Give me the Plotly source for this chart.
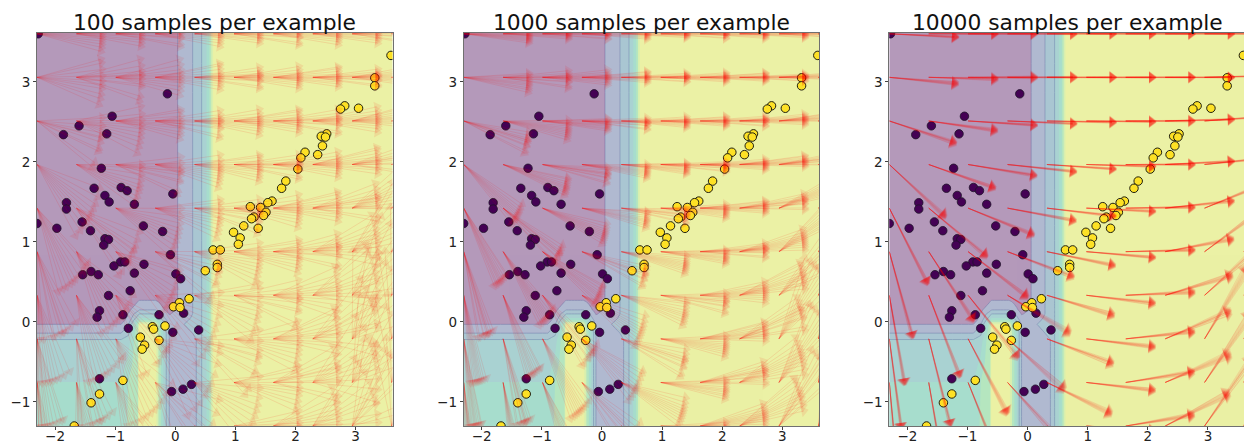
import math
import plotly.graph_objects as go

titles = ["100 samples per example", "1000 samples per example", "10000 samples per example"]
x_ticks = [-2, -1, 0, 1, 2, 3]
y_ticks = [-1, 0, 1, 2, 3]

dark_x = [-2.28,-0.13,-1.05,-1.60,-1.86,-1.14,-1.23,-0.04,-1.35,-0.90,-0.80,-1.17,-1.10,-1.81,-1.81,-0.68,-1.55,-0.53,-2.30,-1.97,-1.41,-0.21,-1.17,-1.11,-1.19,-0.08,-0.91,-0.84,-1.02,-0.52,-1.40,-1.28,-1.54,-0.68,0.01,0.09,-0.75,-1.11,-1.26,-1.30,-0.87,-0.27,0.14,-0.78,-0.04,0.39,-1.26,-0.06,0.13,0.27]
dark_y = [3.60,2.85,2.57,2.45,2.34,2.35,1.92,1.60,1.67,1.68,1.64,1.58,1.50,1.49,1.41,1.47,1.25,1.20,1.23,1.17,1.14,1.13,1.04,1.03,0.96,0.84,0.75,0.75,0.70,0.72,0.63,0.59,0.59,0.61,0.60,0.54,0.39,0.33,0.14,0.06,0.09,0.09,0.11,-0.08,-0.13,-0.10,-0.71,-0.87,-0.84,-0.78]
light_x = [3.59,3.32,3.32,2.82,2.75,3.05,2.52,2.43,2.50,2.45,2.37,2.16,2.09,2.04,1.84,1.77,1.61,1.54,1.25,1.42,1.51,1.47,1.31,1.27,1.14,0.97,1.38,1.08,1.05,0.63,0.75,0.70,0.70,0.50,0.23,0.07,-0.03,0.08,-0.38,-0.36,-0.17,-0.58,-0.51,-0.55,-0.27,-0.87,-1.26,-1.40,-1.68]
light_y = [3.33,3.05,2.95,2.70,2.66,2.67,2.35,2.32,2.31,2.20,2.09,2.12,2.05,1.91,1.76,1.67,1.51,1.49,1.44,1.43,1.37,1.33,1.31,1.29,1.20,1.12,1.17,1.05,0.97,0.90,0.90,0.72,0.68,0.64,0.29,0.24,0.19,0.18,-0.06,-0.09,-0.05,-0.19,-0.29,-0.34,-0.23,-0.73,-0.90,-1.01,-1.30]

# decision surface: nodes in x per panel, shared nodes in y, level values
surface_x_100 = [-2.3,-0.9,-0.78,-0.62,-0.6,-0.33,-0.28,-0.24,-0.2,-0.15,-0.1,0.04,0.29,0.35,0.44,0.52,0.57,0.6,0.63,0.65,3.62]
surface_x_1000 = [-2.3,-0.9,-0.78,-0.62,-0.6,-0.31,-0.26,-0.22,-0.18,-0.14,-0.1,0.05,0.30,0.36,0.45,0.52,0.57,0.6,0.63,0.65,3.62]
surface_x_10000 = [-2.3,-0.9,-0.78,-0.62,-0.6,-0.31,-0.26,-0.22,-0.18,-0.14,-0.1,0.06,0.29,0.38,0.45,0.52,0.57,0.6,0.63,0.65,3.62]
surface_y = [-1.31,-0.75,-0.5,-0.22,-0.14,-0.03,0.02,0.05,0.1,0.15,0.27,0.4,3.62]
surface_z = [
    [4,4,4.6,5.5,7,7,5.5,4.5,3.5,2.5,1.5,1,1,1.5,2.5,3.5,4.5,5.5,6.5,7,7],
    [3.5,3.5,4.5,5.5,7,7,5.5,4.5,3.5,2.5,1.5,1,1,1.5,2.5,3.5,4.5,5.5,6.5,7,7],
    [3,3,3.7,5.5,7,7,5.5,4.5,3.5,2.5,1.5,1,1,1.5,2.5,3.5,4.5,5.5,6.5,7,7],
    [2.5,2.5,3,5.5,7,7,5.5,4.5,3.5,2.5,1.5,1.2,1.3,1.5,2.5,3.5,4.5,5.5,6.5,7,7],
    [1.5,1.5,2.2,5.5,7,7,5.5,4.5,3.5,2.5,1.5,1.2,1.5,1.8,2.5,3.5,4.5,5.5,6.5,7,7],
    [0.5,0.5,1.4,5,6.6,6.6,5,4,3,2,1.2,1.2,1.9,2.3,2.5,3.5,4.5,5.5,6.5,7,7],
    [0,0.1,0.9,3.8,4.5,4.5,3.7,3,2.3,1.6,1,1,1.7,2.1,2.5,3.5,4.5,5.5,6.5,7,7],
    [0,0,0.7,3,3.5,3.5,2.8,2.3,1.8,1.2,0.7,0.9,1.6,2,2.5,3.5,4.5,5.5,6.5,7,7],
    [0,0,0.55,2.2,2.5,2.5,2,1.6,1.2,0.8,0.45,0.7,1.5,1.8,2.5,3.5,4.5,5.5,6.5,7,7],
    [0,0,0.3,1.2,1.5,1.5,1.1,0.8,0.6,0.4,0.2,0.6,1.5,1.8,2.5,3.5,4.5,5.5,6.5,7,7],
    [0,0,0,0.4,0.5,0.5,0.4,0.3,0.2,0.1,0.05,0.5,1.5,1.8,2.5,3.5,4.5,5.5,6.5,7,7],
    [0,0,0,0,0,0,0,0,0,0,0,0.5,1.5,1.8,2.5,3.5,4.5,5.5,6.5,7,7],
    [0,0,0,0,0,0,0,0,0,0,0,0.5,1.5,1.8,2.5,3.5,4.5,5.5,6.5,7,7],
]
level_colors = ["#440154","#3b528b","#2c718e","#2a8e8e","#23aa82","#46c060","#a0d838","#cddc1e"]

# gradient field: tail nodes, direction in degrees and fan half-width, rows top to bottom
node_x = [-2.3,-1.644,-0.989,-0.333,0.322,0.978,1.633,2.289,2.944,3.6]
node_y = [3.6,3.056,2.511,1.967,1.422,0.878,0.333,-0.211,-0.756,-1.3]
arrow_len = 1.15
angle_deg = [
    [-2,0,0,0,0,0,0,0,0,0],
    [-4,-1,0,0,0,0,0,0,1,1],
    [-14,-6,-2.7,-1.7,-0.8,-0.5,0,1,3,5],
    [-35,-15,-7,-4.5,-2.9,-1.2,0,2,4.5,10],
    [-56,-32,-17,-8,-5,-2,0.5,4.5,17,30],
    [-70,-49,-30,-16,-8.7,-3.7,1,8,29,45],
    [-77,-63,-43,-24.5,-12.7,-5,2,12.6,34,55],
    [-80,-71.5,-55,-34,-15.7,-5,4.4,17.6,51,65],
    [-83,-77,-62,-39.4,-20,-5,6.7,18,48,70],
    [-85,-80,-68,-48,-25,-3,7,21,47,70],
]
fan_half_width = [
    [8,8,7,7,6,6,6,6,6,6],
    [14,12,10,8,6,6,6,5,6,8],
    [15,13,9,8,7,7,7,7,8,10],
    [16,13,11,9,8,7,7,8,10,12],
    [15,15,14,12,10,9,9,11,14,16],
    [15,16,16,15,12,10,10,14,20,22],
    [14,16,20,22,18,14,14,20,28,30],
    [12,14,20,26,20,14,14,24,32,32],
    [10,12,18,26,20,14,16,26,32,32],
    [10,12,16,24,18,12,16,26,30,30],
]
fan_a = [-1.0,-0.72,-0.5,-0.3,-0.12,0.05,0.22,0.42,0.68,1.0]
fan_b = [-0.85,-0.6,-0.42,-0.2,-0.05,0.1,0.3,0.55,0.8,0.95]
fan_c = [-1.0,-0.8,-0.35,-0.25,0.0,0.15,0.2,0.35,0.6,0.9]
fan_scale = [1.2, 0.5, 0.1]

panel_left = [37.0, 463.7, 889.3]
panel_right = [392.5, 819.3, 1244.0]
panel_x_end = [3.615, 3.615, 3.6]
surface_xs = [surface_x_100, surface_x_1000, surface_x_10000]
W, H = 1244, 443
PLOT_TOP, PLOT_BOTTOM = 33.0, 426.0

scale = [[i / 7, c] for i, c in enumerate(level_colors)]
fig = go.Figure()
for p in range(3):
    suffix = "" if p == 0 else str(p + 1)
    xa, ya = "x" + suffix, "y" + suffix
    fig.add_trace(go.Contour(
        x=surface_xs[p], y=surface_y, z=surface_z, xaxis=xa, yaxis=ya,
        colorscale=scale, zmin=0, zmax=7, opacity=0.4, showscale=False,
        contours=dict(start=0.5, end=6.5, size=1, coloring="fill", showlines=False),
        line=dict(width=0, smoothing=0),
        hoverinfo="skip",
    ))
    fig.add_trace(go.Contour(
        x=surface_xs[p], y=surface_y, z=surface_z, xaxis=xa, yaxis=ya,
        opacity=0.22, showscale=False, autocontour=False,
        contours=dict(start=0.5, end=2.5, size=1, coloring="none", showlines=True),
        line=dict(color="rgb(30,40,120)", width=1, smoothing=0),
        hoverinfo="skip",
    ))
    fig.add_trace(go.Scatter(
        x=dark_x, y=dark_y, xaxis=xa, yaxis=ya, mode="markers",
        marker=dict(size=8.5, color="rgb(68,1,84)", line=dict(color="rgb(30,20,40)", width=0.8)),
        hoverinfo="skip",
    ))
    fig.add_trace(go.Scatter(
        x=light_x, y=light_y, xaxis=xa, yaxis=ya, mode="markers",
        marker=dict(size=8.5, color="rgb(253,225,37)", line=dict(color="rgb(30,30,15)", width=1)),
        hoverinfo="skip",
    ))
    for k in range(10):
        xs, ys, sizes = [], [], []
        for r in range(10):
            for c in range(10):
                fan = [fan_a, fan_b, fan_c][(r + c) % 3]
                a = math.radians(angle_deg[r][c] + fan_half_width[r][c] * fan_scale[p] * fan[k])
                x0, y0 = node_x[c], node_y[r]
                xs += [x0, x0 + arrow_len * math.cos(a), None]
                ys += [y0, y0 + arrow_len * math.sin(a), None]
                sizes += [0, 10, 0]
        fig.add_trace(go.Scatter(
            x=xs, y=ys, xaxis=xa, yaxis=ya, mode="lines+markers",
            line=dict(color="rgba(255,0,0,0.11)", width=1),
            marker=dict(symbol="triangle-up", size=sizes, angleref="previous", standoff=4,
                        color="rgba(255,0,0,0.13)", line=dict(width=0)),
            hoverinfo="skip", connectgaps=False,
        ))
    axis_common = dict(showgrid=False, zeroline=False, showline=True, mirror=True, automargin=False,
                       linecolor="#707070", linewidth=1, ticks="outside", ticklen=3,
                       tickcolor="#404040", tickfont=dict(family="DejaVu Sans", size=13.5, color="#222222"))
    fig.update_layout(**{
        "xaxis" + suffix: dict(domain=[panel_left[p] / W, panel_right[p] / W], ticklabelstandoff=-5,
                               range=[-2.3, panel_x_end[p]], tickvals=x_ticks, anchor=ya, **axis_common),
        "yaxis" + suffix: dict(domain=[1 - PLOT_BOTTOM / H, 1 - PLOT_TOP / H],
                               range=[-1.3, 3.61], tickvals=y_ticks, anchor=xa, **axis_common),
    })
    fig.add_annotation(text=titles[p], xref="paper", yref="paper", showarrow=False,
                       x=(panel_left[p] + min(panel_left[p] + 355.5, 1245)) / 2 / W,
                       y=1 - 37.0 / H, yanchor="bottom", xanchor="center",
                       font=dict(family="DejaVu Sans", size=21.8, color="#111111"))

fig.update_layout(width=W, height=H, margin=dict(l=0, r=0, t=0, b=0), showlegend=False,
                  paper_bgcolor="white", plot_bgcolor="white", hovermode=False)
fig.write_html("out.html", config=dict(displayModeBar=False),
               post_script="document.body.style.margin='0';document.body.style.overflow='hidden';")
